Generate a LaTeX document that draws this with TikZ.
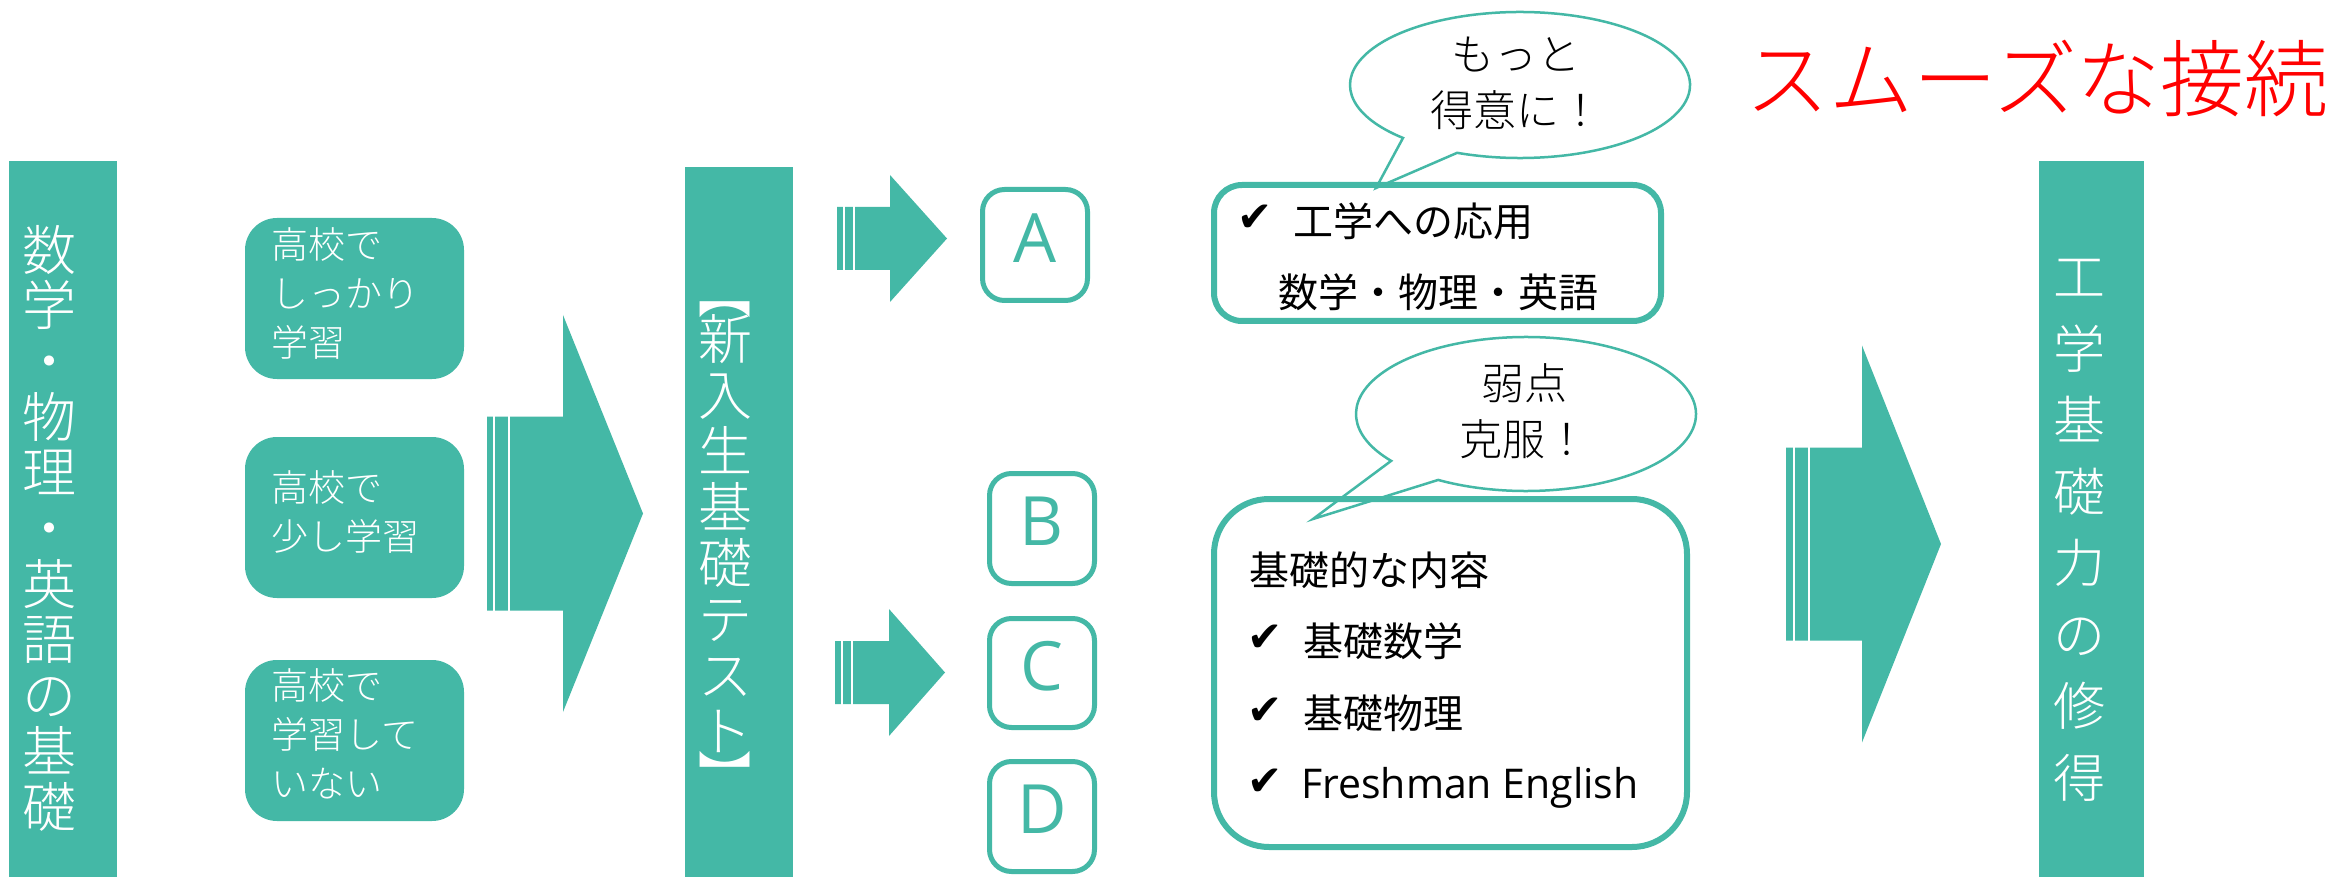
\documentclass[tikz,border=0pt]{standalone}
\usepackage{fontspec}
\setmainfont{Noto Sans CJK JP}
\newfontfamily\lightf{Noto Sans CJK JP Light}
\newfontfamily\latinf{Open Sans}
\newfontfamily\symf{DejaVu Sans}
\definecolor{tealc}{RGB}{68,184,166}
% striped block arrow: x0, head start, tip, y centre, shaft half-height, head half-height, stripe1 offset, stripe2 offset
\newcommand\stripedarrow[8]{%
  \fill[tealc] (#1,#4-#5) -- (#2,#4-#5) -- (#2,#4-#6) -- (#3,#4) -- (#2,#4+#6) -- (#2,#4+#5) -- (#1,#4+#5) -- cycle;
  \fill[white] (#1+#7,#4-#5-1) rectangle (#1+#7+2,#4+#5+1);
  \fill[white] (#1+#8,#4-#5-1) rectangle (#1+#8+2,#4+#5+1);
}
\begin{document}
\begin{tikzpicture}[x=1pt,y=-1pt,
  bar/.style={fill=tealc, inner sep=0},
  vtext/.style={text=white, inner sep=0, align=center},
  vbracket/.style={text=white, inner sep=0, rotate=-90, font=\lightf\fontsize{54}{54}\selectfont},
  hsbox/.style={fill=tealc, rounded corners=32pt, minimum width=219pt, minimum height=161pt, inner sep=0},
  boxtext/.style={text=white, align=left, anchor=west, inner sep=0, font=\lightf\fontsize{37}{49}\selectfont},
  letterbox/.style={draw=tealc, line width=5pt, rounded corners=22pt, minimum width=105pt, inner sep=0},
  letter/.style={text=tealc, inner sep=0, font=\latinf\fontsize{68}{68}\selectfont},
  infobox/.style={draw=tealc, line width=6pt, fill=white, inner sep=0},
  bubble/.style={draw=tealc, line width=2.5pt},
  bubtext/.style={align=center, inner sep=0, font=\lightf\fontsize{43}{56}\selectfont},
  jtext/.style={anchor=west, inner sep=0, font=\fontsize{40}{40}\selectfont},
  chk/.style={inner sep=0, font=\symf\fontsize{42}{42}\selectfont},
]
\fill[white] (0,0) rectangle (2338,877);
\useasboundingbox (0,0) rectangle (2338,877);

% bars
\node[bar, minimum width=108pt, minimum height=716pt] (lbar) at (63,519) {};
\node[bar, minimum width=108pt, minimum height=710pt] (mbar) at (739,522) {};
\node[bar, minimum width=105pt, minimum height=716pt] (rbar) at (2091.5,519) {};

\node[vtext, font=\lightf\fontsize{54}{55.7}\selectfont] (ltext) at (49,528)
  {数\\学\\・\\物\\理\\・\\英\\語\\の\\基\\礎};
\node[vbracket] (mopen) at (725,293) {【};
\node[vtext, font=\lightf\fontsize{54}{56}\selectfont] (mtext) at (725,533.5)
  {新\\入\\生\\基\\礎\\テ\\ス\\ト};
\node[vbracket] (mclose) at (725,776) {】};
\node[vtext, font=\lightf\fontsize{52}{71.5}\selectfont] (rtext) at (2079,530.5)
  {工\\学\\基\\礎\\力\\の\\修\\得};

% high-school boxes
\node[hsbox] (hs1) at (354.5,298.5) {};
\node[hsbox] (hs2) at (354.5,517.5) {};
\node[hsbox] (hs3) at (354.5,740.5) {};
\node[boxtext] (hs1t) at (271,293) {高校で\\しっかり\\学習};
\node[boxtext] (hs2t) at (271,512) {高校で\\少し学習};
\node[boxtext] (hs3t) at (271,734) {高校で\\学習して\\いない};

% arrows
\stripedarrow{487}{563}{643}{513.5}{97}{198.5}{6}{21}
\stripedarrow{837}{890}{947}{238.5}{31.5}{63.5}{6}{16}
\stripedarrow{835}{889}{945}{672.5}{31.5}{63.5}{6}{16}
\stripedarrow{1786}{1862}{1941}{544}{96.5}{198.5}{7}{22}

% letter boxes
\node[letterbox, minimum height=111pt] (bA) at (1035,245) {};
\node[letterbox, minimum height=110pt] (bB) at (1042,528.5) {};
\node[letterbox, minimum height=109pt] (bC) at (1042,673) {};
\node[letterbox, minimum height=110pt] (bD) at (1042,816.5) {};
\node[letter] (lA) at ([yshift=7pt]bA.center) {A};
\node[letter] (lB) at ([yshift=7pt]bB.center) {B};
\node[letter] (lC) at ([yshift=7pt]bC.center) {C};
\node[letter] (lD) at ([yshift=7pt]bD.center) {D};

% info boxes
\node[infobox, rounded corners=28pt, minimum width=447pt, minimum height=136pt] (info1) at (1437.5,253) {};
\node[infobox, rounded corners=55pt, minimum width=473pt, minimum height=348pt] (info2) at (1450.5,673) {};

\node[chk] (c0) at (1255.5,218.5) {✔};
\node[jtext] (i1a) at (1293,221) {工学への応用};
\node[jtext] (i1b) at (1278,292) {数学・物理・英語};

\node[jtext] (i2a) at (1249,570) {基礎的な内容};
\node[chk] (c1) at (1265.5,638) {✔};
\node[chk] (c2) at (1265.5,711) {✔};
\node[chk] (c3) at (1265.5,782) {✔};
\node[jtext] (i2b) at (1303,641) {基礎数学};
\node[jtext] (i2c) at (1303,713) {基礎物理};
\node[anchor=base west, inner sep=0, font=\latinf\fontsize{41}{41}\selectfont] (i2d) at (1301,798) {Freshman English};

% callouts
\coordinate (tip1) at (1376,188);
\coordinate (tip2) at (1313,519);
\draw[bubble] (1520,85) ++(248.3:170pt and 73pt) arc[start angle=248.3, end angle=586.5, x radius=170pt, y radius=73pt] -- (tip1) -- cycle;
\draw[bubble] (1526,414) ++(238.9:170pt and 77pt) arc[start angle=238.9, end angle=577.5, x radius=170pt, y radius=77pt] -- (tip2) -- cycle;
\node[bubtext] (bub1) at (1516,83) {もっと\\得意に！};
\node[bubtext] (bub2) at (1524,411) {弱点\\克服！};

% title
\node[text=red, inner sep=0, font=\lightf\fontsize{84}{84}\selectfont] (title) at (2037,78.5) {スムーズな接続};
\end{tikzpicture}
\end{document}
